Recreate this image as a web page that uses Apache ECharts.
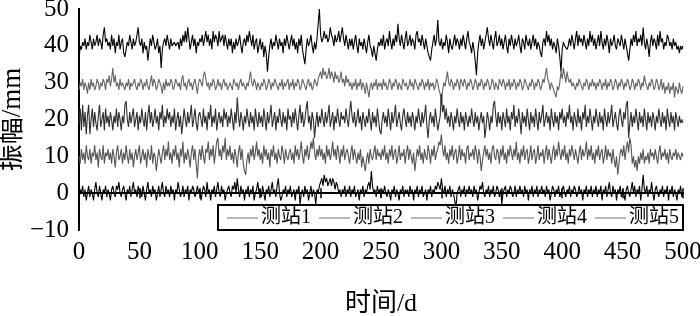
<!DOCTYPE html>
<html>
<head>
<meta charset="utf-8">
<script src="https://cdn.jsdelivr.net/npm/echarts@6/dist/echarts.min.js"></script>
<style>
html,body{margin:0;padding:0;background:#fff;}
#chart{width:700px;height:316px;}
</style>
</head>
<body>
<div id="chart"></div>
<script>
// Station names (legend)
const stationNames = ['测站1', '测站2', '测站3', '测站4', '测站5'];
// Y tick values
const yTicks = [-10, 0, 10, 20, 30, 40, 50];
// X tick values (days)
const xTicks = [0, 50, 100, 150, 200, 250, 300, 350, 400, 450, 500];

// Amplitude (mm) for day 0..500
const station1 = [
36,40,39,41,40,42,39,41,40,43,41,39,42,40,41,43,40,42,41,39,43,45,41,42,40,
41,39,43,40,42,38,41,40,43,39,41,42,38,37,39,41,40,43,41,39,42,40,41,43,45,
41,40,42,38,41,39,40,36,39,42,40,43,41,39,40,42,38,40,34,39,41,42,40,43,41,
39,42,40,40,41,40,40,41,39,42,40,43,41,44,41,45,42,39,41,43,40,42,38,41,40,
42,41,43,40,42,44,41,43,40,42,39,44,41,43,42,40,44,41,42,43,40,43,41,39,42,
40,42,38,41,39,42,40,41,43,40,38,41,42,40,43,41,44,42,40,43,39,41,42,38,40,
42,39,41,37,40,38,33,37,40,42,39,41,40,43,41,39,42,40,41,38,42,40,43,41,39,
41,43,40,42,39,41,38,42,40,43,39,37,35,39,42,40,41,43,40,38,41,39,42,42,50,
43,41,42,44,42,43,41,42,45,43,42,40,43,41,42,44,41,43,45,42,40,43,41,39,42,
40,42,39,41,43,40,38,42,40,41,39,42,40,38,41,43,40,39,37,40,38,36,39,41,40,
42,40,43,39,41,42,40,44,41,39,42,40,43,41,46,42,40,43,41,39,42,44,40,41,43,
40,42,41,39,43,44,41,42,40,43,41,39,42,40,38,37,36,39,41,43,40,42,47,41,40,
42,39,41,40,43,41,38,42,40,39,41,43,40,42,41,39,42,40,43,41,39,42,44,41,40,
38,41,39,36,32,38,41,43,40,42,39,41,43,45,42,40,43,41,39,42,44,40,41,43,40,
42,39,41,43,40,38,42,40,43,41,39,42,40,41,43,40,38,42,41,39,43,41,40,42,39,
41,43,40,42,39,41,40,38,37,41,42,40,44,41,43,40,42,39,41,40,38,42,40,37,33,
39,41,40,40,39,40,42,40,43,41,39,42,44,40,43,41,42,40,43,41,39,42,40,44,41,
43,40,42,39,41,43,40,44,41,39,42,40,43,41,38,42,40,41,43,40,39,42,41,40,43,
41,39,42,40,38,36,39,42,40,43,41,44,40,42,41,43,40,45,41,39,42,40,37,41,43,
40,42,41,39,43,40,44,41,42,39,41,40,43,42,40,41,39,42,40,41,39,40,38,40,39,
40];
const station2 = [
28,30,29,31,28,30,29,27,30,28,31,29,30,28,29,31,30,28,30,29,31,30,28,31,30,
32,29,31,34,30,32,29,30,28,31,29,30,29,28,30,29,31,28,30,29,30,31,29,28,30,
29,31,30,28,30,29,31,29,28,30,32,29,31,30,28,29,31,30,29,27,30,28,31,29,30,
29,31,30,28,29,31,30,29,30,28,31,32,29,30,28,30,31,29,30,28,30,31,29,27,30,
31,30,29,32,33,31,29,30,28,30,29,31,30,28,29,31,29,30,28,30,31,29,30,28,29,
30,29,28,31,30,29,30,28,30,31,29,30,29,28,30,29,31,33,30,29,31,30,28,30,29,
28,30,29,31,30,28,29,31,30,28,30,29,31,30,29,28,30,29,31,28,30,29,30,31,28,
30,29,31,28,30,29,31,30,28,29,31,30,29,28,30,31,29,30,28,29,31,30,29,31,32,
33,31,34,32,33,31,32,34,31,33,32,30,33,31,32,30,31,33,30,31,29,32,30,31,29,
30,28,30,29,31,28,30,29,31,28,30,29,27,30,28,26,29,30,28,30,29,31,28,30,29,
30,28,31,29,30,28,29,31,30,28,30,29,31,30,28,30,29,28,31,30,29,30,28,29,31,
29,30,28,31,30,29,28,30,29,31,30,28,30,29,31,28,30,29,30,28,29,31,30,28,27,
24,28,30,29,31,33,30,29,31,30,28,30,29,31,30,28,31,30,29,31,30,28,30,29,31,
30,28,29,31,30,28,30,29,31,30,28,30,29,31,30,28,29,31,30,28,30,29,28,31,30,
29,31,30,28,30,29,31,28,30,29,31,30,28,30,29,31,30,28,29,31,30,29,28,30,29,
31,30,28,30,29,31,30,28,29,31,30,32,34,31,30,28,30,29,28,27,26,29,28,30,33,
31,34,32,30,33,31,30,31,29,30,29,28,30,29,31,30,29,28,30,29,31,30,28,30,29,
31,29,30,28,30,29,31,30,28,30,29,31,28,30,29,31,30,28,29,31,30,28,30,29,31,
30,28,30,29,31,30,28,29,31,30,28,30,29,31,30,28,30,29,32,30,29,28,30,29,31,
30,28,29,31,30,28,29,31,28,30,27,29,28,30,27,29,28,30,26,29,28,27,30,28,27,
29];
const station3 = [
19,23,17,24,18,22,16,21,24,16,20,23,18,22,19,17,21,24,18,20,22,17,23,19,21,
18,22,20,17,21,19,23,18,22,20,17,21,19,24,25,20,18,22,19,21,23,18,20,22,17,
21,19,23,20,18,22,17,21,24,19,22,18,20,23,19,21,17,22,20,24,18,21,19,23,20,
22,18,21,19,23,17,20,22,18,21,16,19,23,20,18,22,19,21,24,18,20,23,19,17,21,
22,20,18,23,19,21,17,22,20,24,18,21,19,23,17,20,22,19,21,18,23,20,22,18,21,
19,23,20,17,22,19,26,21,18,22,20,17,21,19,23,20,18,22,19,21,17,23,20,18,22,
19,21,18,23,20,17,22,19,21,24,18,20,22,17,21,19,23,20,18,22,19,21,17,23,20,
21,18,22,19,23,20,17,21,24,19,22,18,20,23,25,19,21,17,22,20,15,19,22,18,21,
19,23,20,18,22,19,21,24,18,20,22,17,21,19,23,20,18,22,20,21,19,23,20,18,22,
25,21,19,22,18,20,23,19,21,17,22,20,18,21,19,23,20,17,22,19,21,18,23,20,17,
16,20,22,19,21,18,23,20,17,22,19,21,24,18,20,22,19,17,21,23,20,18,22,19,21,
18,22,20,17,21,19,23,20,18,22,19,21,24,18,15,20,22,19,21,18,23,20,17,19,21,
27,22,24,20,23,19,21,18,22,20,17,21,19,23,20,18,22,19,21,17,22,20,18,21,19,
23,20,18,22,19,21,17,20,22,19,21,15,18,22,20,17,21,19,24,25,21,18,22,19,21,
17,22,20,18,23,19,21,17,22,20,24,18,21,19,23,20,16,22,19,21,18,23,20,17,22,
19,21,18,23,20,17,22,19,21,24,18,20,22,19,21,17,23,20,18,22,19,21,17,22,20,
23,19,21,18,22,20,24,19,21,17,22,20,18,23,19,21,17,22,20,24,18,21,19,23,20,
17,21,19,23,20,18,22,19,21,17,23,20,18,22,19,21,24,18,20,22,19,17,21,23,20,
18,22,20,24,25,15,19,22,18,21,19,23,20,17,22,19,21,18,23,20,17,22,19,21,18,
22,20,17,21,19,23,20,18,22,19,21,17,23,20,18,22,19,21,17,22,20,18,21,19,20,
19];
const station4 = [
10,8,12,9,11,8,13,10,9,12,8,11,10,13,9,11,7,12,10,9,13,8,11,10,12,
9,11,8,12,10,7,11,13,9,10,12,8,11,9,13,10,8,12,9,11,7,10,12,9,11,
13,8,10,12,9,11,7,12,10,9,13,8,11,10,6,9,12,10,8,11,13,9,12,10,14,
9,11,8,12,10,13,9,11,7,12,10,14,8,11,9,12,10,7,11,13,9,12,8,4,10,
12,9,13,10,8,12,11,14,9,12,10,13,8,11,14,15,10,12,9,13,11,15,9,12,10,
13,9,11,8,12,10,7,11,13,9,12,8,6,5,9,11,8,12,10,13,9,11,14,10,12,
9,11,8,13,10,12,9,11,7,12,10,13,9,11,8,12,10,9,13,11,8,12,10,9,11,
12,9,11,8,13,10,12,9,11,14,10,8,12,10,13,9,11,14,12,15,11,9,12,10,13,
10,12,9,11,8,13,10,12,9,11,14,10,12,9,13,11,8,12,10,13,9,11,12,10,8,
11,13,9,12,10,8,11,9,12,7,10,8,6,9,11,8,12,10,9,11,13,9,12,10,11,
9,12,10,13,9,11,8,12,10,13,9,11,12,8,10,13,9,11,10,12,8,11,13,9,12,
10,8,11,6,9,12,10,13,9,11,8,12,10,9,13,11,8,12,10,13,9,11,12,14,13,
16,12,10,13,9,11,8,12,10,13,9,11,12,8,10,13,9,12,10,11,8,12,13,9,11,
10,12,9,13,11,8,12,10,6,9,11,13,10,12,9,11,8,12,13,10,9,12,11,8,12,
10,13,9,11,8,12,10,13,11,9,12,10,14,9,11,8,12,10,13,9,11,12,8,10,13,
9,11,12,8,10,13,9,11,10,12,8,11,13,9,12,10,8,11,13,9,12,10,14,11,9,
12,10,13,9,11,8,12,10,13,11,9,12,10,8,11,13,9,12,10,11,14,9,12,10,13,
9,11,8,12,10,13,9,11,12,8,10,13,9,12,10,11,8,12,9,7,10,5,8,11,12,
10,13,9,12,14,11,15,13,8,10,7,9,6,10,8,11,9,12,8,10,9,11,8,12,10,
11,9,12,10,8,11,13,9,11,10,12,9,11,8,12,10,9,11,10,12,9,11,10,9,11,
10];
const station5 = [
-2,1,0,2,-1,1,-2,0,2,-1,1,0,-2,1,3,0,-1,2,0,-2,1,0,2,-1,1,
0,-2,1,2,0,-1,2,1,3,0,-1,1,2,0,-2,1,0,2,-1,1,3,0,1,-1,2,
0,1,-1,2,0,-2,1,3,0,1,-1,2,0,1,-2,0,2,-1,1,3,0,-1,2,0,1,
-1,2,0,1,-2,1,0,3,1,-1,0,2,-1,1,0,2,-2,1,0,2,1,-1,0,2,0,
1,-2,0,2,1,-1,3,0,1,-2,1,0,2,-1,1,3,0,-1,2,0,1,-2,0,1,2,
0,-1,2,1,3,0,4,1,-1,2,0,1,-2,1,0,2,-1,1,0,2,-2,0,1,3,0,
1,-1,2,0,-2,1,0,2,-1,1,3,0,1,-1,2,4,0,-2,-1,1,0,2,-1,1,0,
2,-1,0,1,-2,1,0,2,-3,0,1,-1,2,0,1,-2,0,2,-1,1,0,-3,1,0,2,
3,4,2,5,3,4,2,3,4,2,4,3,1,3,2,0,1,-1,1,0,2,-1,1,0,2,
-1,1,0,2,-1,0,1,-2,1,0,2,-1,1,0,2,3,1,6,2,0,1,-1,2,0,1,
-1,1,0,2,0,-1,1,0,-2,1,0,2,-1,1,0,-2,1,0,2,-1,1,0,1,-1,2,
0,1,-2,1,0,2,-1,1,0,2,-1,0,1,-2,1,0,2,-1,1,0,2,1,3,2,1,
4,1,0,2,-1,1,0,2,-1,1,0,-2,-4,0,1,2,-1,1,0,2,-1,1,0,2,0,
1,-1,2,0,1,-2,0,2,1,3,0,-1,1,0,2,-1,1,0,2,-1,0,2,1,-1,1,
-3,0,1,2,-1,1,0,2,1,-1,0,2,-1,1,0,2,0,1,-1,2,0,1,-2,1,0,
2,-1,1,0,2,-1,1,0,2,0,1,-1,2,0,1,-2,0,2,1,-1,1,0,2,-1,0,
1,2,0,-1,1,0,2,-1,1,0,2,1,-1,0,2,0,1,-2,1,0,2,-1,1,0,2,
-1,1,0,2,-1,1,0,2,-2,1,0,2,-1,1,3,0,-1,2,0,1,-2,1,0,2,-1,
1,0,-2,1,2,0,-1,1,3,0,2,-1,1,0,2,-2,1,5,1,0,2,-1,1,0,3,
0,-2,1,2,0,-1,1,0,2,-1,1,0,2,-2,1,0,2,-1,1,0,-2,1,0,2,-1,
0];

const allStations = [station1, station2, station3, station4, station5];
const lineColors = ['#000000', '#666666', '#2e2e2e', '#555555', '#000000'];

const serif = "'Liberation Serif', 'Noto Sans CJK SC', serif";

const chart = echarts.init(document.getElementById('chart'), null, {renderer: 'canvas'});

const series = allStations.map((vals, k) => ({
  name: stationNames[k],
  type: 'line',
  data: vals.map((v, i) => [i, v]),
  symbol: 'none',
  showSymbol: false,
  lineStyle: {color: lineColors[k], width: 1.1},
  itemStyle: {color: lineColors[k]},
  z: 2
}));

chart.setOption({
  animation: false,
  backgroundColor: '#fff',
  grid: {left: 79, right: 17, top: 9, bottom: 86, show: false, containLabel: false, outerBoundsMode: 'none'},
  legend: {
    data: stationNames.map(n => ({name: n, icon: 'rect'})),
    right: 17,
    bottom: 86,
    orient: 'horizontal',
    backgroundColor: '#fff',
    borderColor: '#000',
    borderWidth: 2,
    borderRadius: 0,
    padding: [3, 4, 2, 9],
    itemGap: 8,
    itemWidth: 31,
    itemHeight: 1.2,
    itemStyle: {color: '#888', borderWidth: 0},
    lineStyle: {color: '#888'},
    textStyle: {fontFamily: serif, fontSize: 20, color: '#000', padding: [0, 0, 0, -2]},
    z: 10
  },
  xAxis: [{
    type: 'value', position: 'bottom', min: 0, max: 500, interval: 50,
    name: '时间/d', nameLocation: 'middle', nameGap: 61, nameMoveOverlap: false,
    nameTextStyle: {fontFamily: serif, fontSize: 26, color: '#000'},
    axisLine: {show: true, lineStyle: {color: '#000', width: 2}},
    axisTick: {show: true, inside: true, length: 5, lineStyle: {color: '#000', width: 1.5}},
    axisLabel: {fontFamily: serif, fontSize: 25, color: '#000', margin: 10},
    splitLine: {show: false}
  }, {
    type: 'value', position: 'top', min: 0, max: 500, interval: 50,
    axisLine: {show: true, lineStyle: {color: '#000', width: 2}},
    axisTick: {show: true, inside: true, length: 5, lineStyle: {color: '#000', width: 1.5}},
    axisLabel: {show: false},
    splitLine: {show: false}
  }],
  yAxis: [{
    type: 'value', position: 'left', min: -10, max: 50, interval: 10,
    name: '振幅/mm', nameLocation: 'middle', nameGap: 53, nameRotate: 90, nameMoveOverlap: false,
    nameTextStyle: {fontFamily: serif, fontSize: 27, color: '#000'},
    axisLine: {show: true, lineStyle: {color: '#000', width: 2}},
    axisTick: {show: false},
    axisLabel: {fontFamily: serif, fontSize: 25, color: '#000', margin: 10,
      formatter: v => (v < 0 ? '\u2212' + Math.abs(v) : String(v))},
    splitLine: {show: false}
  }, {
    type: 'value', position: 'right', min: -10, max: 50, interval: 10,
    axisLine: {show: true, lineStyle: {color: '#000', width: 2}},
    axisTick: {show: false},
    axisLabel: {show: false},
    splitLine: {show: false}
  }],
  series: series
});
</script>
</body>
</html>
